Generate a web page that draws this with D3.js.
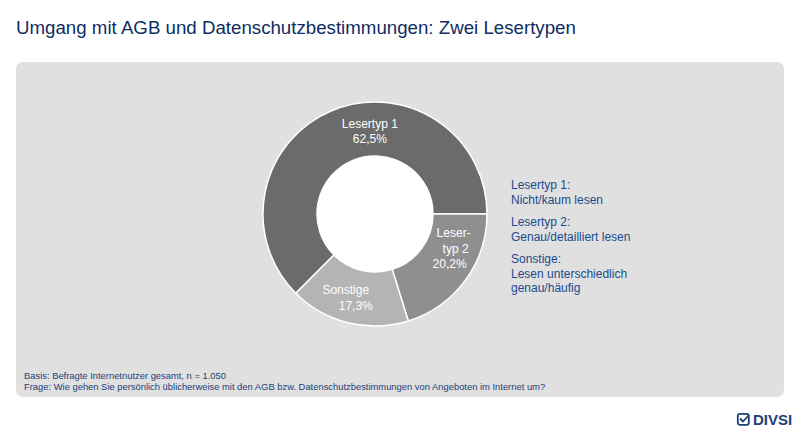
<!DOCTYPE html>
<html>
<head>
<meta charset="utf-8">
<script src="https://cdn.jsdelivr.net/npm/d3@7"></script>
<style>
  body { margin: 0; background: #fff; }
  text { font-family: "Liberation Sans", Arial, sans-serif; }
</style>
</head>
<body>
<div id="chart"></div>
<script>
const width = 800;
const height = 440;

// data
const categories = ["Lesertyp 1", "Lesertyp 2", "Sonstige"];
const values = [62.5, 20.2, 17.3];
const sliceLabels = [["Lesertyp 1"], ["Leser-", "typ 2"], ["Sonstige"]];
const legendLines = [
    ["Lesertyp 1:", "Nicht/kaum lesen"],
    ["Lesertyp 2:", "Genau/detailliert lesen"],
    ["Sonstige:", "Lesen unterschiedlich", "genau/häufig"]
];
const footnotes = [
    "Basis: Befragte Internetnutzer gesamt, n = 1.050",
    "Frage: Wie gehen Sie persönlich üblicherweise mit den AGB bzw. Datenschutzbestimmungen von Angeboten im Internet um?"
];

const colors = ["#6b6b6b", "#8f8f8f", "#b4b4b4"];
const labelShift = [19, -14, 2]; // degrees, nudge label from slice middle
const lineNudge = [[0, 0], [0, 2, -4], [-6, 4]]; // x nudge per label line
const fmt = v => d3.format(".1f")(v).replace(".", ",") + "%";

const svg = d3.select("#chart")
    .append("svg")
    .attr("width", width)
    .attr("height", height);

svg.append("text")
    .attr("x", 16)
    .attr("y", 34)
    .attr("fill", "#0f2d63")
    .style("font-size", "18.7px")
    .text("Umgang mit AGB und Datenschutzbestimmungen: Zwei Lesertypen");

svg.append("rect")
    .attr("x", 16)
    .attr("y", 62)
    .attr("width", 768)
    .attr("height", 335)
    .attr("rx", 7)
    .attr("fill", "#e0e0e0");

// donut
const cx = 375, cy = 214;
const outerR = 112, innerR = 58;

const pie = d3.pie()
    .sort(null)
    .value(d => d)
    .startAngle(-3 * Math.PI / 4)
    .endAngle(5 * Math.PI / 4);

const arc = d3.arc().innerRadius(innerR).outerRadius(outerR);
const arcs = pie(values);

const g = svg.append("g").attr("transform", `translate(${cx},${cy})`);

g.append("circle")
    .attr("r", innerR)
    .attr("fill", "#ffffff");

g.selectAll(".slice")
    .data(arcs)
  .join("path")
    .attr("class", "slice")
    .attr("d", arc)
    .attr("fill", (d, i) => colors[i])
    .attr("stroke", "#ffffff")
    .attr("stroke-width", 1.5);

const labelR = 85;
const labels = g.selectAll(".lbl")
    .data(arcs)
  .join("text")
    .attr("class", "lbl")
    .attr("fill", "#ffffff")
    .attr("text-anchor", "middle")
    .style("font-size", "12px")
    .attr("transform", (d, i) => {
        const a = (d.startAngle + d.endAngle) / 2 + labelShift[i] * Math.PI / 180;
        return `translate(${labelR * Math.sin(a)},${-labelR * Math.cos(a)})`;
    });

labels.each(function(d, i) {
    const lines = sliceLabels[i].concat([fmt(d.data)]);
    const t = d3.select(this);
    const start = -(lines.length - 1) * 15 / 2 + 6;
    lines.forEach((l, j) => {
        t.append("tspan")
            .attr("x", lineNudge[i][j])
            .attr("y", start + j * 15.5)
            .text(l);
    });
});

// legend
const legend = svg.append("g").attr("transform", "translate(511,189)");
let ly = 0;
legendLines.forEach(block => {
    block.forEach(l => {
        legend.append("text")
            .attr("x", 0)
            .attr("y", ly)
            .attr("fill", "#1c4a8e")
            .style("font-size", "12px")
            .text(l);
        ly += 14.5;
    });
    ly += 8;
});

// footnotes
svg.selectAll(".foot")
    .data(footnotes)
  .join("text")
    .attr("class", "foot")
    .attr("x", 24)
    .attr("y", (d, i) => 379 + i * 11)
    .attr("fill", "#1c3f7a")
    .style("font-size", "9.4px")
    .text(d => d);

// logo
const logo = svg.append("g").attr("transform", "translate(737,413)");
logo.append("rect")
    .attr("x", 0.8).attr("y", 0.8)
    .attr("width", 11).attr("height", 11)
    .attr("rx", 2)
    .attr("fill", "none")
    .attr("stroke", "#1c3f7a")
    .attr("stroke-width", 1.8);
logo.append("path")
    .attr("d", "M3 5.5 L6 8.5 L12 2")
    .attr("fill", "none")
    .attr("stroke", "#1c3f7a")
    .attr("stroke-width", 1.8);
logo.append("text")
    .attr("x", 16)
    .attr("y", 12)
    .attr("fill", "#1c3f7a")
    .style("font-size", "15px")
    .style("font-weight", "bold")
    .text("DIVSI");
</script>
</body>
</html>
